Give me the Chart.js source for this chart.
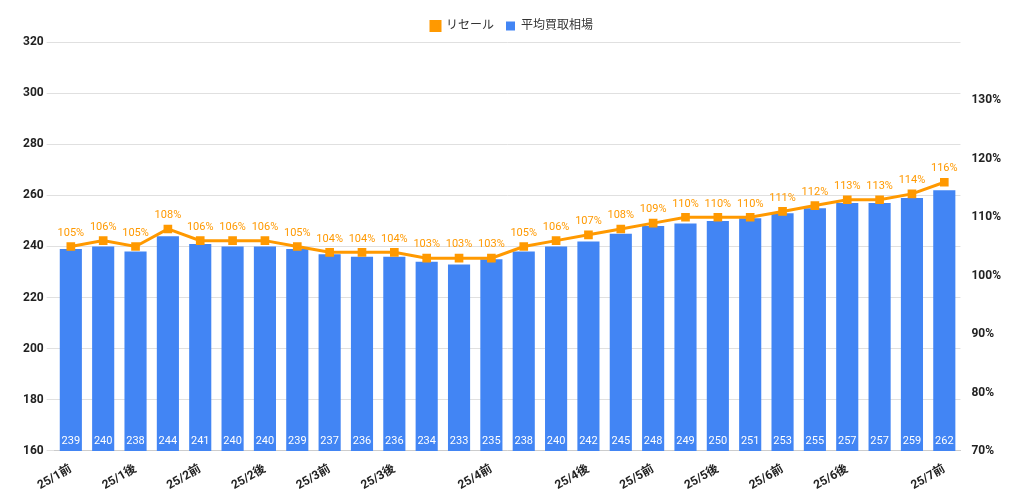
<!DOCTYPE html>
<html><head><meta charset="utf-8">
<script src="https://cdn.jsdelivr.net/npm/chart.js@4"></script>
<style>body{margin:0;background:#fff}#w{width:1024px;height:496px}</style>
</head><body><div id="w"><canvas id="c"></canvas></div>
<script>
const categories=['25/1前','','25/1後','','25/2前','','25/2後','','25/3前','','25/3後','','','25/4前','','','25/4後','','25/5前','','25/5後','','25/6前','','25/6後','','','25/7前'];
const avgPrice=[239,240,238,244,241,240,240,239,237,236,236,234,233,235,238,240,242,245,248,249,250,251,253,255,257,257,259,262];
const resale=[105,106,105,108,106,106,106,105,104,104,104,103,103,103,105,106,107,108,109,110,110,110,111,112,113,113,114,116];
const F='Roboto, "Noto Sans CJK JP", sans-serif';
const labelsPlugin={id:'lbl',afterDatasetsDraw(ch){const x=ch.ctx;x.save();x.textAlign='center';
 const m0=ch.getDatasetMeta(0),m1=ch.getDatasetMeta(1);
 x.font='11px '+F;x.fillStyle='#ffffff';x.textBaseline='middle';
 m0.data.forEach((b,i)=>x.fillText(avgPrice[i],b.x,ch.chartArea.bottom-10));
 x.fillStyle='#ff9900';x.textBaseline='bottom';
 m1.data.forEach((p,i)=>x.fillText(resale[i]+'%',p.x,p.y-8));
 x.restore();}};
new Chart(document.getElementById('c'),{
 data:{labels:categories,datasets:[
  {type:'bar',label:'平均買取相場',data:avgPrice,backgroundColor:'#4285f4',yAxisID:'y',categoryPercentage:0.95,barPercentage:0.72,order:2},
  {type:'line',label:'リセール',data:resale,borderColor:'#ff9900',backgroundColor:'#ff9900',borderWidth:3,pointStyle:'rect',pointRadius:4,yAxisID:'y1',order:1}
 ]},
 plugins:[labelsPlugin],
 options:{responsive:true,maintainAspectRatio:false,animation:false,
  layout:{padding:{left:20,right:20,top:8,bottom:0}},
  plugins:{legend:{position:'top',labels:{boxWidth:9,boxHeight:9,font:{family:F,size:12},color:'#333',padding:12}},tooltip:{enabled:false}},
  scales:{
   x:{grid:{display:false},border:{color:'#ccc'},ticks:{autoSkip:false,maxRotation:30,minRotation:30,font:{family:F,size:12,weight:'bold'},color:'#222'}},
   y:{min:160,max:320,ticks:{stepSize:20,font:{family:F,size:12,weight:'bold'},color:'#222'},grid:{color:'#e0e0e0'},border:{display:false}},
   y1:{position:'right',min:70,max:140,ticks:{stepSize:10,font:{family:F,size:12,weight:'bold'},color:'#222',callback:v=>v>=140?'':v+'%'},grid:{display:false},border:{display:false}}
  }}
});
</script></body></html>
